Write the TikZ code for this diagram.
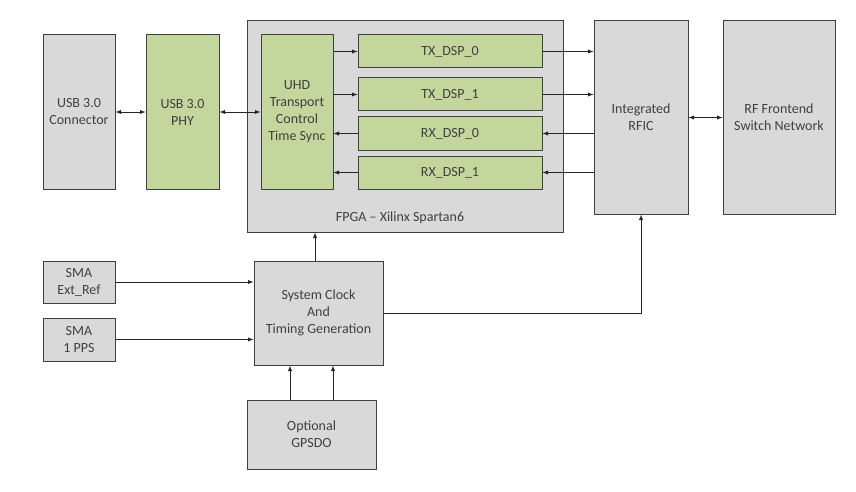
\documentclass[tikz,border=0pt]{standalone}
\usepackage{fontspec}
\setmainfont{Carlito}
\usepackage{tikz}
\usetikzlibrary{arrows}
\usetikzlibrary{positioning}
\definecolor{boxgray}{HTML}{D9D9D9}
\definecolor{boxgreen}{HTML}{C3D69B}
\definecolor{edgegray}{HTML}{404040}
\definecolor{textgray}{HTML}{404040}
\tikzset{blk/.style = {draw = edgegray, line width = 1pt, fill = boxgray, text = textgray,
    align = center, inner sep = 0, font = \fontsize{14}{17}\selectfont}}
\tikzset{grn/.style = {blk, fill = boxgreen}}
\tikzset{conn/.style = {-latex, line width = 0.9pt, draw = black!85}}
\tikzset{biconn/.style = {latex-latex, line width = 0.9pt, draw = black!85}}

\begin{document}
\begin{tikzpicture}[x=1pt, y=-1pt]
    \useasboundingbox (0, 0) rectangle (856, 492);

    % usb side
    \node [blk, minimum width = 72, minimum height = 154] (usbcon) at (79, 112) {USB 3.0\\Connector};
    \node [grn, minimum width = 73, minimum height = 154] (usbphy) at (182.5, 112) {USB 3.0\\PHY};

    % fpga
    \node [blk, minimum width = 316, minimum height = 211] (fpga) at (405, 126.5) {};
    \node [text = textgray, font = \fontsize{14}{17}\selectfont] (fpgalabel) at (400, 218) {FPGA -- Xilinx Spartan6};
    \node [grn, minimum width = 72, minimum height = 154] (uhd) at (297, 112) {UHD\\Transport\\Control\\Time Sync};
    \node [grn, minimum width = 184, minimum height = 33] (tx0) at (450, 51.5) {TX\_DSP\_0};
    \node [grn, minimum width = 184, minimum height = 33] (tx1) at (450, 94.5) {TX\_DSP\_1};
    \node [grn, minimum width = 184, minimum height = 33] (rx0) at (450, 133.5) {RX\_DSP\_0};
    \node [grn, minimum width = 184, minimum height = 33] (rx1) at (450, 172.5) {RX\_DSP\_1};

    % rf side
    \node [blk, minimum width = 94, minimum height = 193] (rfic) at (641, 117.5) {Integrated\\RFIC};
    \node [blk, minimum width = 112, minimum height = 193] (rffe) at (779, 117.5) {RF Frontend\\Switch Network};

    % clocking
    \node [blk, minimum width = 72, minimum height = 42] (smaext) at (79, 282) {SMA\\Ext\_Ref};
    \node [blk, minimum width = 72, minimum height = 43] (smapps) at (79, 339.5) {SMA\\1 PPS};
    \node [blk, minimum width = 129, minimum height = 104] (clk) at (318.5, 313) {System Clock\\And\\Timing Generation};
    \node [blk, minimum width = 129, minimum height = 69] (gpsdo) at (311.5, 434.5) {Optional\\GPSDO};

    \draw [biconn] (usbcon.east) -- (usbphy.west);
    \draw [biconn] (usbphy.east) -- (uhd.west);
    \draw [biconn] (rfic.east) -- (rffe.west);

    \foreach \dsp in {tx0, tx1} {
      \draw [conn] (uhd.east |- \dsp.west) -- (\dsp.west);
      \draw [conn] (\dsp.east) -- (rfic.west |- \dsp.east);
    }
    \foreach \dsp in {rx0, rx1} {
      \draw [conn] (rfic.west |- \dsp.east) -- (\dsp.east);
      \draw [conn] (\dsp.west) -- (uhd.east |- \dsp.west);
    }

    \draw [conn] (smaext.east) -- (clk.west |- smaext.east);
    \draw [conn] (smapps.east) -- (clk.west |- smapps.east);
    \draw [conn] ([xshift = -3.5]clk.north) -- ([xshift = -3.5]clk.north |- fpga.south);
    \draw [conn] (clk.east) -| (rfic.south);
    \draw [conn] ([xshift = -21.5]gpsdo.north) -- ([xshift = -21.5]gpsdo.north |- clk.south);
    \draw [conn] ([xshift = 21.5]gpsdo.north) -- ([xshift = 21.5]gpsdo.north |- clk.south);

  \end{tikzpicture}
\end{document}
